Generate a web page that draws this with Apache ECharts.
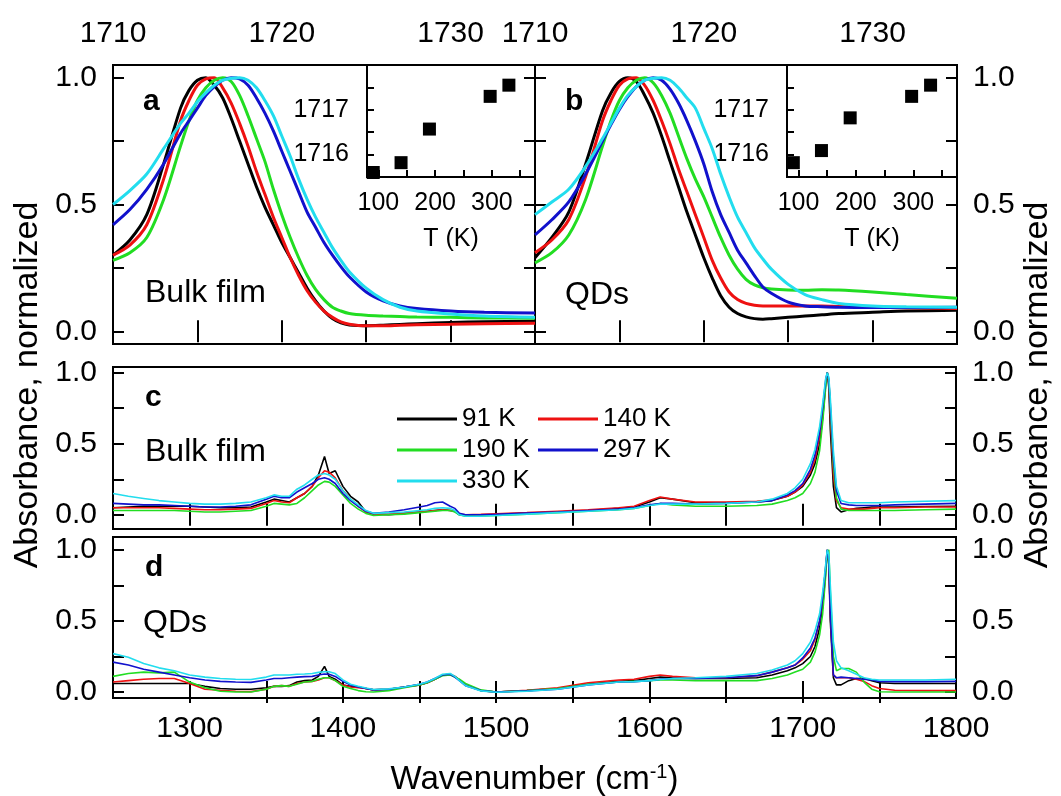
<!DOCTYPE html>
<html>
<head>
<meta charset="utf-8">
<script src="https://cdn.jsdelivr.net/npm/echarts@6/dist/echarts.min.js"></script>
<style>
  html, body { margin: 0; padding: 0; background: #fff; }
  #chart { width: 1061px; height: 796px; }
</style>
</head>
<body>
<div id="chart"></div>
<script>
// ---------- data ----------
const temps = ['91 K', '140 K', '190 K', '297 K', '330 K'];
const colors = ['#000000', '#ee1111', '#22dd22', '#1111cc', '#22ddee'];

// panels a / b : zoom on the C=O band
const waveAB = [1710, 1711, 1712, 1713, 1714, 1714.5, 1715, 1715.5, 1716, 1716.5, 1717, 1717.5, 1718, 1718.5, 1719, 1719.5,
  1720, 1720.5, 1721, 1721.5, 1722, 1722.5, 1723, 1723.5, 1724, 1725, 1726, 1727, 1728, 1730, 1732, 1735];

const aBlack = [0.30, 0.36, 0.46, 0.66, 0.88, 0.95, 0.99, 1.0, 0.97, 0.92, 0.84, 0.75, 0.66, 0.57, 0.49, 0.42,
  0.35, 0.29, 0.23, 0.17, 0.12, 0.08, 0.05, 0.033, 0.025, 0.022, 0.024, 0.027, 0.03, 0.035, 0.038, 0.04];
const aRed = [0.30, 0.34, 0.42, 0.60, 0.83, 0.91, 0.97, 0.995, 1.0, 0.96, 0.90, 0.82, 0.73, 0.63, 0.54, 0.45,
  0.37, 0.29, 0.22, 0.16, 0.115, 0.08, 0.055, 0.037, 0.028, 0.022, 0.022, 0.024, 0.026, 0.028, 0.03, 0.032];
const aGreen = [0.28, 0.31, 0.37, 0.52, 0.73, 0.83, 0.91, 0.96, 0.99, 1.0, 0.985, 0.93, 0.85, 0.76, 0.67, 0.56,
  0.46, 0.37, 0.29, 0.22, 0.165, 0.125, 0.095, 0.08, 0.07, 0.063, 0.06, 0.058, 0.056, 0.055, 0.053, 0.052];
const aBlue = [0.42, 0.48, 0.56, 0.66, 0.78, 0.83, 0.88, 0.93, 0.965, 0.99, 1.0, 0.995, 0.97, 0.92, 0.86, 0.79,
  0.71, 0.63, 0.55, 0.47, 0.41, 0.35, 0.30, 0.255, 0.215, 0.155, 0.12, 0.10, 0.09, 0.08, 0.075, 0.072];
const aCyan = [0.50, 0.555, 0.62, 0.72, 0.82, 0.86, 0.905, 0.94, 0.97, 0.99, 0.998, 1.0, 0.99, 0.96, 0.91, 0.85,
  0.77, 0.69, 0.60, 0.52, 0.45, 0.39, 0.33, 0.28, 0.235, 0.17, 0.125, 0.095, 0.08, 0.068, 0.06, 0.055];

const bBlack = [0.29, 0.37, 0.47, 0.66, 0.87, 0.94, 0.985, 1.0, 0.985, 0.93, 0.86, 0.77, 0.67, 0.57, 0.47, 0.38,
  0.29, 0.21, 0.14, 0.095, 0.07, 0.057, 0.05, 0.048, 0.05, 0.055, 0.06, 0.065, 0.07, 0.075, 0.08, 0.083];
const bRed = [0.31, 0.36, 0.44, 0.61, 0.83, 0.91, 0.97, 0.995, 1.0, 0.97, 0.91, 0.83, 0.74, 0.64, 0.55, 0.46,
  0.37, 0.28, 0.21, 0.155, 0.125, 0.11, 0.103, 0.10, 0.10, 0.10, 0.10, 0.10, 0.098, 0.095, 0.093, 0.09];
const bGreen = [0.27, 0.31, 0.38, 0.52, 0.73, 0.83, 0.91, 0.96, 0.99, 1.0, 0.98, 0.93, 0.86, 0.77, 0.68, 0.60,
  0.53, 0.45, 0.37, 0.30, 0.245, 0.205, 0.183, 0.172, 0.167, 0.163, 0.162, 0.164, 0.163, 0.155, 0.145, 0.13];
const bBlue = [0.38, 0.44, 0.51, 0.62, 0.75, 0.815, 0.875, 0.925, 0.965, 0.99, 1.0, 0.99, 0.955, 0.90, 0.83, 0.75,
  0.66, 0.55, 0.46, 0.39, 0.32, 0.27, 0.22, 0.175, 0.15, 0.115, 0.10, 0.097, 0.095, 0.094, 0.094, 0.095];
const bCyan = [0.46, 0.51, 0.56, 0.65, 0.76, 0.82, 0.88, 0.93, 0.965, 0.99, 0.998, 1.0, 0.99, 0.96, 0.92, 0.88,
  0.80, 0.72, 0.62, 0.53, 0.45, 0.39, 0.33, 0.285, 0.245, 0.185, 0.145, 0.125, 0.11, 0.10, 0.097, 0.095];

// insets: peak position vs temperature
const insetT = [91, 140, 190, 297, 330];
const peakBulk = [1715.6, 1715.82, 1716.57, 1717.3, 1717.55];
const peakQD = [1715.82, 1716.09, 1716.82, 1717.3, 1717.55];

// panels c / d : full spectra
const waveCD = [1250, 1260, 1270, 1280, 1290, 1300, 1310, 1320,
  1330, 1340, 1350, 1355, 1360, 1365, 1370, 1375,
  1380, 1384, 1388, 1391, 1395, 1400, 1405, 1410,
  1415, 1420, 1430, 1440, 1450, 1455, 1460, 1465,
  1470, 1473, 1476, 1480, 1490, 1500, 1520, 1540,
  1560, 1580, 1590, 1600, 1607, 1615, 1630, 1650,
  1670, 1680, 1690, 1695, 1700, 1705, 1708, 1711,
  1713, 1715, 1716, 1717, 1718, 1720, 1722, 1725,
  1730, 1735, 1740, 1745, 1750, 1760, 1780, 1800];

const cBlack = [0.05, 0.055, 0.06, 0.06, 0.06, 0.06, 0.055, 0.05,
  0.05, 0.055, 0.09, 0.11, 0.10, 0.09, 0.12, 0.15,
  0.20, 0.28, 0.41, 0.29, 0.31, 0.20, 0.13, 0.09,
  0.02, 0.005, 0.0, 0.01, 0.02, 0.025, 0.03, 0.035,
  0.03, 0.025, 0.0, -0.005, 0.0, 0.0, 0.01, 0.02,
  0.03, 0.045, 0.055, 0.09, 0.12, 0.11, 0.085, 0.085,
  0.09, 0.10, 0.13, 0.16, 0.20, 0.28, 0.36, 0.50,
  0.68, 0.92, 1.0, 0.90, 0.60, 0.20, 0.05, 0.02,
  0.035, 0.045, 0.05, 0.055, 0.055, 0.055, 0.058, 0.06];
const cRed = [0.05, 0.05, 0.05, 0.05, 0.045, 0.04, 0.035, 0.035,
  0.04, 0.045, 0.08, 0.10, 0.09, 0.085, 0.12, 0.15,
  0.20, 0.26, 0.31, 0.30, 0.26, 0.17, 0.11, 0.06,
  0.02, 0.005, 0.005, 0.01, 0.02, 0.025, 0.03, 0.035,
  0.03, 0.025, 0.005, 0.0, 0.003, 0.007, 0.015, 0.025,
  0.035, 0.05, 0.06, 0.10, 0.125, 0.11, 0.09, 0.09,
  0.095, 0.105, 0.13, 0.16, 0.21, 0.30, 0.39, 0.55,
  0.72, 0.93, 1.0, 0.93, 0.70, 0.28, 0.10, 0.05,
  0.04, 0.04, 0.04, 0.045, 0.05, 0.05, 0.055, 0.055];
const cGreen = [0.03, 0.03, 0.03, 0.03, 0.03, 0.025, 0.02, 0.02,
  0.025, 0.03, 0.06, 0.08, 0.075, 0.07, 0.08, 0.12,
  0.17, 0.21, 0.235, 0.23, 0.20, 0.14, 0.08, 0.04,
  0.01, -0.005, 0.0, 0.005, 0.015, 0.02, 0.025, 0.03,
  0.03, 0.02, 0.0, -0.01, -0.008, -0.005, 0.005, 0.015,
  0.025, 0.035, 0.045, 0.065, 0.08, 0.07, 0.06, 0.06,
  0.065, 0.075, 0.10, 0.12, 0.15, 0.22, 0.30, 0.45,
  0.65, 0.90, 1.0, 0.95, 0.75, 0.35, 0.12, 0.04,
  0.03, 0.03, 0.03, 0.03, 0.03, 0.03, 0.035, 0.04];
const cBlue = [0.08, 0.075, 0.07, 0.07, 0.065, 0.06, 0.055, 0.055,
  0.06, 0.07, 0.11, 0.13, 0.12, 0.12, 0.16, 0.19,
  0.22, 0.25, 0.26, 0.25, 0.22, 0.15, 0.10, 0.06,
  0.025, 0.01, 0.02, 0.035, 0.055, 0.065, 0.085, 0.09,
  0.06, 0.045, 0.01, 0.0, 0.0, 0.003, 0.012, 0.02,
  0.03, 0.04, 0.05, 0.07, 0.08, 0.08, 0.075, 0.08,
  0.09, 0.10, 0.14, 0.17, 0.22, 0.32, 0.42, 0.58,
  0.75, 0.95, 1.0, 0.95, 0.78, 0.40, 0.17, 0.08,
  0.07, 0.065, 0.065, 0.065, 0.065, 0.07, 0.075, 0.08];
const cCyan = [0.15, 0.13, 0.115, 0.10, 0.09, 0.08, 0.075, 0.075,
  0.08, 0.09, 0.12, 0.14, 0.13, 0.13, 0.18, 0.21,
  0.25, 0.28, 0.29, 0.28, 0.25, 0.17, 0.11, 0.07,
  0.03, 0.01, 0.015, 0.02, 0.03, 0.035, 0.045, 0.05,
  0.045, 0.03, 0.0, -0.01, -0.01, -0.005, 0.005, 0.015,
  0.025, 0.035, 0.045, 0.065, 0.075, 0.075, 0.075, 0.08,
  0.09, 0.11, 0.15, 0.19, 0.25, 0.36, 0.46, 0.62,
  0.78, 0.96, 1.0, 0.97, 0.82, 0.45, 0.20, 0.10,
  0.085, 0.085, 0.085, 0.085, 0.085, 0.09, 0.095, 0.10];

const dBlack = [0.06, 0.06, 0.06, 0.06, 0.06, 0.06, 0.04, 0.025,
  0.02, 0.02, 0.03, 0.04, 0.04, 0.045, 0.07, 0.08,
  0.085, 0.11, 0.18, 0.11, 0.09, 0.05, 0.04, 0.035,
  0.025, 0.015, 0.02, 0.035, 0.05, 0.065, 0.09, 0.12,
  0.125, 0.11, 0.085, 0.05, 0.01, 0.0, 0.01, 0.025,
  0.055, 0.075, 0.08, 0.095, 0.105, 0.10, 0.095, 0.095,
  0.10, 0.12, 0.15, 0.17, 0.20, 0.25, 0.32, 0.45,
  0.60, 0.85, 1.0, 0.90, 0.50, 0.10, 0.05, 0.05,
  0.08, 0.095, 0.095, 0.08, 0.065, 0.06, 0.06, 0.06];
const dRed = [0.07, 0.08, 0.09, 0.095, 0.095, 0.06, 0.02, 0.012,
  0.005, 0.003, 0.02, 0.04, 0.045, 0.04, 0.06, 0.07,
  0.075, 0.085, 0.10, 0.10, 0.08, 0.05, 0.035, 0.03,
  0.025, 0.015, 0.02, 0.035, 0.05, 0.065, 0.09, 0.12,
  0.125, 0.11, 0.085, 0.05, 0.01, 0.0, 0.012, 0.03,
  0.065, 0.085, 0.09, 0.11, 0.12, 0.11, 0.10, 0.10,
  0.115, 0.14, 0.17, 0.19, 0.23, 0.29, 0.37, 0.50,
  0.65, 0.88, 1.0, 0.92, 0.55, 0.12, 0.10, 0.10,
  0.10, 0.09, 0.075, 0.045, 0.025, 0.012, 0.01, 0.01];
const dGreen = [0.11, 0.13, 0.14, 0.135, 0.14, 0.07, 0.03, 0.005,
  0.0, 0.0, 0.02, 0.04, 0.045, 0.04, 0.055, 0.07,
  0.075, 0.09, 0.10, 0.10, 0.08, 0.04, 0.025, 0.01,
  0.002, 0.0, 0.01, 0.03, 0.05, 0.065, 0.09, 0.115,
  0.12, 0.105, 0.09, 0.06, 0.015, 0.0, 0.01, 0.025,
  0.055, 0.07, 0.075, 0.08, 0.085, 0.085, 0.08, 0.08,
  0.08, 0.095, 0.12, 0.14, 0.16, 0.21, 0.28, 0.40,
  0.55, 0.82, 0.98, 1.0, 0.70, 0.25, 0.15, 0.165,
  0.165, 0.14, 0.07, 0.02, 0.002, 0.0, 0.0, 0.0];
const dBlue = [0.21, 0.19, 0.16, 0.14, 0.12, 0.10, 0.085, 0.075,
  0.07, 0.068, 0.085, 0.095, 0.095, 0.10, 0.105, 0.108,
  0.11, 0.12, 0.127, 0.125, 0.11, 0.075, 0.05, 0.035,
  0.025, 0.015, 0.02, 0.035, 0.055, 0.07, 0.095, 0.12,
  0.125, 0.105, 0.08, 0.045, 0.01, 0.0, 0.008, 0.02,
  0.05, 0.07, 0.073, 0.08, 0.09, 0.095, 0.095, 0.10,
  0.115, 0.14, 0.17, 0.19, 0.24, 0.31, 0.38, 0.50,
  0.66, 0.88, 1.0, 0.93, 0.55, 0.12, 0.10, 0.105,
  0.10, 0.095, 0.09, 0.085, 0.075, 0.073, 0.073, 0.075];
const dCyan = [0.27, 0.245, 0.20, 0.17, 0.15, 0.12, 0.105, 0.095,
  0.09, 0.088, 0.105, 0.12, 0.12, 0.12, 0.125, 0.127,
  0.13, 0.138, 0.143, 0.143, 0.13, 0.085, 0.055, 0.04,
  0.028, 0.018, 0.022, 0.035, 0.055, 0.07, 0.095, 0.125,
  0.13, 0.11, 0.08, 0.045, 0.008, -0.002, 0.005, 0.02,
  0.05, 0.07, 0.073, 0.08, 0.088, 0.095, 0.10, 0.11,
  0.13, 0.155, 0.19, 0.22, 0.27, 0.35, 0.43, 0.55,
  0.70, 0.90, 1.0, 0.97, 0.75, 0.35, 0.22, 0.17,
  0.15, 0.125, 0.10, 0.09, 0.085, 0.085, 0.085, 0.09];

// tick values
const abTicks = [1715, 1720, 1725, 1730];
const abLabels = [1710, 1720, 1730];
const cdTicks = [1300, 1350, 1400, 1450, 1500, 1550, 1600, 1650, 1700, 1750];
const cdLabels = [1300, 1400, 1500, 1600, 1700, 1800];
const absTicks = [0, 0.25, 0.5, 0.75, 1.0];
const absLabels = [0, 0.5, 1.0];
const tTicks = [100, 150, 200, 250, 300, 350];
const tLabels = [100, 200, 300];
const peakTicks = [1716, 1716.5, 1717, 1717.5];
const peakLabels = [1716, 1717];

// ---------- chart ----------
const FONT = 'Liberation Sans';
const chart = echarts.init(document.getElementById('chart'));

const plain = v => String(v);
const oneDec = v => v.toFixed(1);

function ticks(values, len) {
  return { show: true, inside: true, length: len || 11, customValues: values, lineStyle: { color: '#000', width: 2 } };
}
function labels(values, size, margin, fmt) {
  return { show: true, customValues: values, fontSize: size, fontFamily: FONT, color: '#000', margin: margin, formatter: fmt || plain };
}
function axis(o) {
  return Object.assign({
    type: 'value',
    axisLine: { show: false },
    splitLine: { show: false },
    axisLabel: { show: false }
  }, o);
}

function box(left, top, width, height, bg) {
  return { left: left, top: top, width: width, height: height, show: true, borderColor: '#000', borderWidth: 2,
    backgroundColor: bg || 'transparent', containLabel: false, outerBoundsMode: 'none' };
}

const pairs = (xs, ys) => xs.map((x, i) => [x, ys[i]]);

function lines(xs, sets, xIdx, yIdx, width) {
  return sets.map((ys, k) => ({
    name: temps[k], type: 'line', xAxisIndex: xIdx, yAxisIndex: yIdx,
    data: pairs(xs, ys), showSymbol: false, symbol: 'none', smooth: width > 2 ? 0.3 : false,
    color: colors[k], lineStyle: { color: colors[k], width: width }
  }));
}

// legend in two columns, like the original
function legendCol(names, left) {
  return {
    data: names, left: left, top: 406, orient: 'vertical', selectedMode: false, padding: 0,
    icon: 'rect', itemWidth: 60, itemHeight: 3, itemGap: 5,
    textStyle: { fontSize: 26, fontFamily: FONT, color: '#000' }
  };
}

const nameStyle = { fontSize: 33, fontFamily: FONT, color: '#000' };
const insetName = { fontSize: 25, fontFamily: FONT, color: '#000' };
const textFont = '32px "Liberation Sans"';
const boldFont = 'bold 30px "Liberation Sans"';

const option = {
  animation: false,
  backgroundColor: '#fff',
  grid: [
    box(113, 65, 422, 279),          // a
    box(535, 65, 422, 279),          // b
    box(367, 65, 168, 112, '#fff'),  // inset a
    box(787, 65, 170, 112, '#fff'),  // inset b
    box(113, 367, 843, 162),         // c
    box(113, 537, 843, 161)          // d
  ],
  xAxis: [
    axis({ gridIndex: 0, position: 'top', min: 1710, max: 1735, axisTick: ticks(abTicks), axisLabel: labels(abLabels, 30, 16) }),
    axis({ gridIndex: 0, position: 'bottom', min: 1710, max: 1735, axisTick: ticks(abTicks) }),
    axis({ gridIndex: 1, position: 'top', min: 1710, max: 1735, axisTick: ticks(abTicks), axisLabel: labels(abLabels, 30, 16) }),
    axis({ gridIndex: 1, position: 'bottom', min: 1710, max: 1735, axisTick: ticks(abTicks) }),
    axis({ gridIndex: 2, position: 'bottom', min: 80, max: 376, axisTick: ticks(tTicks, 7), axisLabel: labels(tLabels, 25, 14),
      name: 'T (K)', nameLocation: 'middle', nameGap: 50, nameTextStyle: insetName }),
    axis({ gridIndex: 3, position: 'bottom', min: 80, max: 376, axisTick: ticks(tTicks, 7), axisLabel: labels(tLabels, 25, 14),
      name: 'T (K)', nameLocation: 'middle', nameGap: 50, nameTextStyle: insetName }),
    axis({ gridIndex: 4, position: 'top', min: 1250, max: 1800, axisTick: ticks(cdTicks) }),
    axis({ gridIndex: 4, position: 'bottom', min: 1250, max: 1800, axisTick: ticks(cdTicks) }),
    axis({ gridIndex: 5, position: 'top', min: 1250, max: 1800, axisTick: ticks(cdTicks) }),
    axis({ gridIndex: 5, position: 'bottom', min: 1250, max: 1800, axisTick: ticks(cdTicks), axisLabel: labels(cdLabels, 30, 16),
      name: 'Wavenumber (cm{sup|-1})', nameLocation: 'middle', nameGap: 64,
      nameTextStyle: Object.assign({ rich: { sup: { fontSize: 20, fontFamily: FONT, color: '#000', verticalAlign: 'top', padding: [0, 0, 15, 0] } } }, nameStyle) })
  ],
  yAxis: [
    axis({ gridIndex: 0, position: 'left', min: -0.05, max: 1.05, axisTick: ticks(absTicks), axisLabel: labels(absLabels, 30, 16, oneDec) }),
    axis({ gridIndex: 0, position: 'right', min: -0.05, max: 1.05, axisTick: ticks(absTicks) }),
    axis({ gridIndex: 1, position: 'left', min: -0.05, max: 1.05, axisTick: ticks(absTicks) }),
    axis({ gridIndex: 1, position: 'right', min: -0.05, max: 1.05, axisTick: ticks(absTicks), axisLabel: labels(absLabels, 30, 16, oneDec) }),
    axis({ gridIndex: 2, position: 'left', min: 1715.5, max: 1718, axisTick: ticks(peakTicks, 7), axisLabel: labels(peakLabels, 25, 18) }),
    axis({ gridIndex: 3, position: 'left', min: 1715.5, max: 1718, axisTick: ticks(peakTicks, 7), axisLabel: labels(peakLabels, 25, 18) }),
    axis({ gridIndex: 4, position: 'left', min: -0.1, max: 1.04, axisTick: ticks(absTicks), axisLabel: labels(absLabels, 30, 16, oneDec) }),
    axis({ gridIndex: 4, position: 'right', min: -0.1, max: 1.04, axisTick: ticks(absTicks), axisLabel: labels(absLabels, 30, 16, oneDec) }),
    axis({ gridIndex: 5, position: 'left', min: -0.042, max: 1.09, axisTick: ticks(absTicks), axisLabel: labels(absLabels, 30, 16, oneDec) }),
    axis({ gridIndex: 5, position: 'right', min: -0.042, max: 1.09, axisTick: ticks(absTicks), axisLabel: labels(absLabels, 30, 16, oneDec) })
  ],
  legend: [
    legendCol([temps[0], temps[2], temps[4]], 397),
    legendCol([temps[1], temps[3]], 538)
  ],
  graphic: [
    { type: 'text', x: 143, y: 102, style: { text: 'a', font: boldFont, fill: '#000', verticalAlign: 'middle' } },
    { type: 'text', x: 565, y: 102, style: { text: 'b', font: boldFont, fill: '#000', verticalAlign: 'middle' } },
    { type: 'text', x: 145, y: 398, style: { text: 'c', font: boldFont, fill: '#000', verticalAlign: 'middle' } },
    { type: 'text', x: 145, y: 568, style: { text: 'd', font: boldFont, fill: '#000', verticalAlign: 'middle' } },
    { type: 'text', x: 145, y: 293, style: { text: 'Bulk film', font: textFont, fill: '#000', verticalAlign: 'middle' } },
    { type: 'text', x: 565, y: 295, style: { text: 'QDs', font: textFont, fill: '#000', verticalAlign: 'middle' } },
    { type: 'text', x: 145, y: 452, style: { text: 'Bulk film', font: textFont, fill: '#000', verticalAlign: 'middle' } },
    { type: 'text', x: 143, y: 623, style: { text: 'QDs', font: textFont, fill: '#000', verticalAlign: 'middle' } },
    { type: 'text', x: 28, y: 385, rotation: Math.PI / 2,
      style: { text: 'Absorbance, normalized', font: '34px "Liberation Sans"', fill: '#000', align: 'center', verticalAlign: 'middle' } },
    { type: 'text', x: 1038, y: 385, rotation: Math.PI / 2,
      style: { text: 'Absorbance, normalized', font: '34px "Liberation Sans"', fill: '#000', align: 'center', verticalAlign: 'middle' } }
  ],
  series: [].concat(
    lines(waveAB, [aBlack, aRed, aGreen, aBlue, aCyan], 1, 0, 3),
    lines(waveAB, [bBlack, bRed, bGreen, bBlue, bCyan], 3, 2, 3),
    lines(waveCD, [cBlack, cRed, cGreen, cBlue, cCyan], 7, 6, 1.6),
    lines(waveCD, [dBlack, dRed, dGreen, dBlue, dCyan], 9, 8, 1.6),
    [
      { name: 'peak bulk', type: 'scatter', xAxisIndex: 4, yAxisIndex: 4, data: pairs(insetT, peakBulk),
        symbol: 'rect', symbolSize: 13, itemStyle: { color: '#000', opacity: 1 } },
      { name: 'peak QDs', type: 'scatter', xAxisIndex: 5, yAxisIndex: 5, data: pairs(insetT, peakQD),
        symbol: 'rect', symbolSize: 13, itemStyle: { color: '#000', opacity: 1 } }
    ]
  )
};

chart.setOption(option);
</script>
</body>
</html>
